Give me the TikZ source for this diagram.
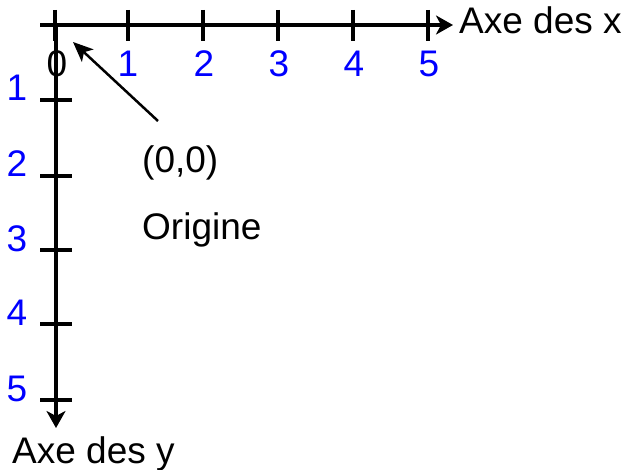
\documentclass[tikz,border=0pt]{standalone}
\usepackage{fontspec}
\setmainfont{Liberation Sans}
\usetikzlibrary{arrows.meta}
\begin{document}
\begin{tikzpicture}[x=1pt,y=-1pt,
  axisline/.style={line width=4pt},
  tickline/.style={line width=4pt},
  lbl/.style={inner sep=0pt,font=\fontsize{37}{44}\selectfont},
  numlbl/.style={lbl,text=blue,anchor=base},
  tipbig/.style={-{Stealth[length=17pt,width=19pt,inset=5pt]}}]
\useasboundingbox (0,0) rectangle (628,470);
% axes
\coordinate (xstart) at (40,25);
\coordinate (xend) at (453,25);
\coordinate (ystart) at (56,25);
\coordinate (yend) at (56,428);
\draw[axisline,tipbig] (xstart) -- (xend);
\draw[axisline,tipbig] (ystart) -- (yend);
% x ticks
\foreach \i/\x in {0/55,1/128,2/203,3/278,4/353,5/428}{
  \draw[tickline] (\x,10) -- (\x,41);
}
\node[lbl,anchor=base] (x0) at (57,77) {0};
\foreach \i/\x in {1/128,2/204,3/279,4/354,5/429}{
  \node[numlbl] (x\i) at (\x,77) {\i};
}
% y ticks
\foreach \i/\y in {1/100,2/176,3/250,4/324,5/400}{
  \draw[tickline] (40,\y) -- (72,\y);
  \node[numlbl] (y\i) at (17,\y+1) {\i};
}
% axis labels
\node[lbl,anchor=base west] (axex) at (459,34) {Axe des x};
\node[lbl,anchor=base west] (axey) at (12,463) {Axe des y};
% origin
\node[lbl,anchor=base west] (oo) at (142,173) {(0,0)};
\node[lbl,anchor=base west] (origine) at (142,239) {Origine};
\coordinate (otail) at (158,121);
\coordinate (otip) at (73,42);
\draw[line width=2.5pt,-{Stealth[length=20pt,width=17pt,inset=5pt]}] (otail) -- (otip);
\end{tikzpicture}
\end{document}
